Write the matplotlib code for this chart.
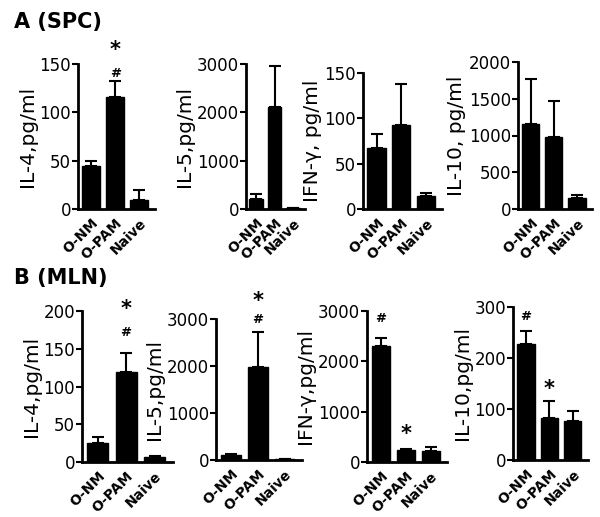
import matplotlib
matplotlib.use("Agg")
import matplotlib.pyplot as plt

plt.rcParams["font.family"] = ["DejaVu Sans"]

W, H = 600, 517
categories = ["O-NM", "O-PAM", "Naive"]

# Panel A (SPC)
a_il4 = [45, 116, 9];       a_il4_err = [5, 16, 11]
a_il5 = [200, 2120, 20];    a_il5_err = [110, 830, 5]
a_ifn = [67, 93, 14];       a_ifn_err = [16, 45, 4]
a_il10 = [1160, 980, 150];  a_il10_err = [610, 490, 45]
# Panel B (MLN)
b_il4 = [25, 119, 7];       b_il4_err = [8, 26, 1]
b_il5 = [100, 1970, 15];    b_il5_err = [20, 750, 3]
b_ifn = [2300, 230, 210];   b_ifn_err = [170, 20, 80]
b_il10 = [228, 82, 77];     b_il10_err = [25, 33, 19]

ylabels_a = ["IL-4,pg/ml", "IL-5,pg/ml", "IFN-\u03b3, pg/ml", "IL-10, pg/ml"]
ylabels_b = ["IL-4,pg/ml", "IL-5,pg/ml", "IFN-\u03b3,pg/ml", "IL-10,pg/ml"]
ymax_a = [150, 3000, 150, 2000]
ymax_b = [200, 3000, 3000, 300]
yticks_a = [[0, 50, 100, 150], [0, 1000, 2000, 3000], [0, 50, 100, 150], [0, 500, 1000, 1500, 2000]]
yticks_b = [[0, 50, 100, 150, 200], [0, 1000, 2000, 3000], [0, 1000, 2000, 3000], [0, 100, 200, 300]]

fig = plt.figure(figsize=(W / 100, H / 100), dpi=100)

def px_axes(x0, x1, ytop, ybot):
    return fig.add_axes([x0 / W, 1 - ybot / H, (x1 - x0) / W, (ybot - ytop) / H])

rect_a = [(78, 155, 64, 209), (246, 305, 64, 209), (363, 442, 73, 209), (518, 592, 62, 209)]
rect_b = [(82, 173, 311, 462), (216, 302, 319, 460), (367, 447, 311, 462), (513, 588, 307, 460)]

data_a = [(a_il4, a_il4_err), (a_il5, a_il5_err), (a_ifn, a_ifn_err), (a_il10, a_il10_err)]
data_b = [(b_il4, b_il4_err), (b_il5, b_il5_err), (b_ifn, b_ifn_err), (b_il10, b_il10_err)]

def draw(rect, vals, errs, ylabel, ymax, yticks):
    ax = px_axes(*rect)
    x = list(range(len(categories)))
    ax.bar(x, vals, width=0.74, color="black", edgecolor="black", zorder=2)
    ax.errorbar(x, vals, yerr=[[0] * len(errs), errs], fmt="none", ecolor="black",
                elinewidth=1.5, capsize=4.5, capthick=1.5, zorder=3)
    ax.set_xlim(-0.55, 2.65)
    ax.set_ylim(0, ymax)
    ax.set_yticks(yticks)
    ax.set_xticks(x)
    ax.set_xticklabels(categories, rotation=45, ha="right", rotation_mode="anchor",
                       fontsize=10, fontweight="bold")
    ax.tick_params(axis="y", labelsize=12, width=1.5, length=4, pad=1)
    ax.tick_params(axis="x", length=0, pad=5)
    for s in ["top", "right"]:
        ax.spines[s].set_visible(False)
    for s in ["left", "bottom"]:
        ax.spines[s].set_linewidth(2)
    ax.set_ylabel(ylabel, fontsize=14.5, labelpad=2)
    ax.patch.set_alpha(0)
    return ax

axes_a = [draw(r, d[0], d[1], l, m, t) for r, d, l, m, t in zip(rect_a, data_a, ylabels_a, ymax_a, yticks_a)]
axes_b = [draw(r, d[0], d[1], l, m, t) for r, d, l, m, t in zip(rect_b, data_b, ylabels_b, ymax_b, yticks_b)]

def annotate(ax, xi, yv, sym):
    if sym == "*":
        ax.text(xi, yv, "*", ha="center", va="center", fontsize=15, fontweight="bold", clip_on=False)
    else:
        ax.text(xi, yv, "#", ha="center", va="center", fontsize=9.5, fontweight="bold", clip_on=False)

annotate(axes_a[0], 1, 140, "#")
annotate(axes_a[0], 1, 165, "*")
annotate(axes_b[0], 1, 172, "#")
annotate(axes_b[0], 1, 202, "*")
annotate(axes_b[1], 1, 2990, "#")
annotate(axes_b[1], 1, 3380, "*")
annotate(axes_b[2], 0, 2850, "#")
annotate(axes_b[2], 1, 560, "*")
annotate(axes_b[3], 0, 282, "#")
annotate(axes_b[3], 1, 140, "*")

fig.text(14 / W, 1 - 22 / H, "A (SPC)", fontsize=15, fontweight="bold", va="center", ha="left")
fig.text(14 / W, 1 - 278 / H, "B (MLN)", fontsize=15, fontweight="bold", va="center", ha="left")

fig.savefig("out.png", dpi=100, facecolor="white")
